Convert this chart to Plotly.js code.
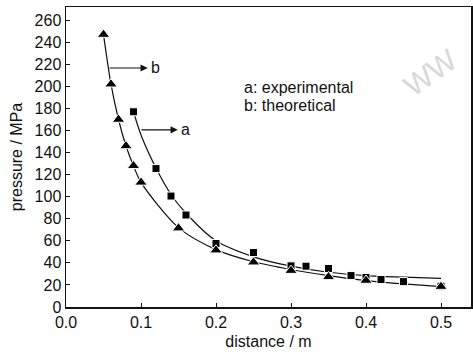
<!DOCTYPE html>
<html><head><meta charset="utf-8">
<script src="https://cdn.plot.ly/plotly-3.0.1.min.js"></script>
<style>html,body{margin:0;padding:0;background:#fff;}#chart{width:473px;height:356px;}</style>
</head><body><div id="chart"></div>
<script>
// experimental (a) measured points
const expX = [0.09, 0.12, 0.14, 0.16, 0.20, 0.25, 0.30, 0.32, 0.35, 0.38, 0.40, 0.42, 0.45, 0.50];
const expY = [177, 125.5, 100.6, 83.4, 57.6, 49.4, 37.3, 37, 34.9, 28.5, 26.7, 24.9, 23, 18.8];
// theoretical (b) points
const theoX = [0.05, 0.06, 0.07, 0.08, 0.09, 0.10, 0.15, 0.20, 0.25, 0.30, 0.35, 0.40, 0.50];
const theoY = [247, 202, 170, 146, 128, 113, 71.5, 51.5, 40.6, 33, 27.3, 24, 18.5];
// fitted curve a
const curveAX = [0.09, 0.10, 0.12, 0.14, 0.16, 0.20, 0.25, 0.30, 0.35, 0.40, 0.45, 0.50];
const curveAY = [177, 156, 126, 102, 85, 60, 45.5, 37, 31.5, 28.5, 27, 26];
// curve b
const curveBX = [0.05, 0.06, 0.07, 0.08, 0.09, 0.10, 0.15, 0.20, 0.25, 0.30, 0.35, 0.40, 0.45, 0.50];
const curveBY = [247, 202, 170, 146, 128, 113, 72, 52, 41, 34, 28.5, 24, 21, 18.5];
const xTicks = [0.0, 0.1, 0.2, 0.3, 0.4, 0.5];
const xTickText = ["0.0", "0.1", "0.2", "0.3", "0.4", "0.5"];
const yTicks = [0, 20, 40, 60, 80, 100, 120, 140, 160, 180, 200, 220, 240, 260];

const FONT = "'Liberation Sans', Arial, sans-serif";
const FS = 16;

const traces = [
  {x: curveAX, y: curveAY, mode: 'lines', line: {color: '#111', width: 1.2, shape: 'spline', smoothing: 0.8}, hoverinfo: 'skip'},
  {x: curveBX, y: curveBY, mode: 'lines', line: {color: '#111', width: 1.2, shape: 'spline', smoothing: 0.8}, hoverinfo: 'skip'},
  {x: expX, y: expY, mode: 'markers', marker: {symbol: 'square', size: 8, color: '#000', line: {color: '#fff', width: 1}}},
  {x: theoX, y: theoY, mode: 'markers', marker: {symbol: 'triangle-up', size: 11, color: '#000', line: {color: '#fff', width: 1}}}
];

const layout = {
  width: 473, height: 356,
  margin: {l: 66, r: 2, t: 7, b: 49},
  showlegend: false,
  paper_bgcolor: '#fff', plot_bgcolor: '#fff',
  font: {family: FONT, size: FS, color: '#111'},
  xaxis: {
    range: [0, 0.54], tickvals: xTicks, ticktext: xTickText,
    ticks: 'inside', ticklen: 4, tickcolor: '#111', showgrid: false, zeroline: false,
    showline: true, linecolor: '#111', linewidth: 1.5, mirror: true,
    tickfont: {family: FONT, size: FS, color: '#111'},
    title: {text: 'distance / m', font: {family: FONT, size: FS, color: '#111'}, standoff: 6}
  },
  yaxis: {
    range: [0, 272], tickvals: yTicks,
    ticks: 'inside', ticklen: 4, tickcolor: '#111', showgrid: false, zeroline: false,
    showline: true, linecolor: '#111', linewidth: 1.5, mirror: true,
    tickfont: {family: FONT, size: FS, color: '#111'},
    title: {text: 'pressure / MPa', font: {family: FONT, size: FS, color: '#111'}, standoff: 8}
  },
  annotations: [
    {x: 0.109, y: 216.7, ax: 0.056, ay: 216.7, xref: 'x', yref: 'y', axref: 'x', ayref: 'y', text: '', showarrow: true, arrowhead: 2, arrowsize: 1.2, arrowwidth: 1.2, arrowcolor: '#111'},
    {x: 0.110, y: 216.7, xref: 'x', yref: 'y', text: 'b', showarrow: false, xanchor: 'left', yanchor: 'middle', font: {family: FONT, size: FS, color: '#111'}},
    {x: 0.149, y: 160.6, ax: 0.0987, ay: 160.6, xref: 'x', yref: 'y', axref: 'x', ayref: 'y', text: '', showarrow: true, arrowhead: 2, arrowsize: 1.2, arrowwidth: 1.2, arrowcolor: '#111'},
    {x: 0.150, y: 160.6, xref: 'x', yref: 'y', text: 'a', showarrow: false, xanchor: 'left', yanchor: 'middle', font: {family: FONT, size: FS, color: '#111'}},
    {x: 0.234, y: 198.8, xref: 'x', yref: 'y', text: 'a: experimental', showarrow: false, xanchor: 'left', yanchor: 'middle', font: {family: FONT, size: FS, color: '#111'}},
    {x: 0.234, y: 182.5, xref: 'x', yref: 'y', text: 'b: theoretical', showarrow: false, xanchor: 'left', yanchor: 'middle', font: {family: FONT, size: FS, color: '#111'}},
    {x: 0.90, y: 0.78, xref: 'paper', yref: 'paper', text: 'WW', showarrow: false, xanchor: 'center', yanchor: 'middle', textangle: -35, font: {family: FONT, size: 30, color: '#d8d8d8'}}
  ]
};

Plotly.newPlot('chart', traces, layout, {staticPlot: true, displayModeBar: false});
</script></body></html>
